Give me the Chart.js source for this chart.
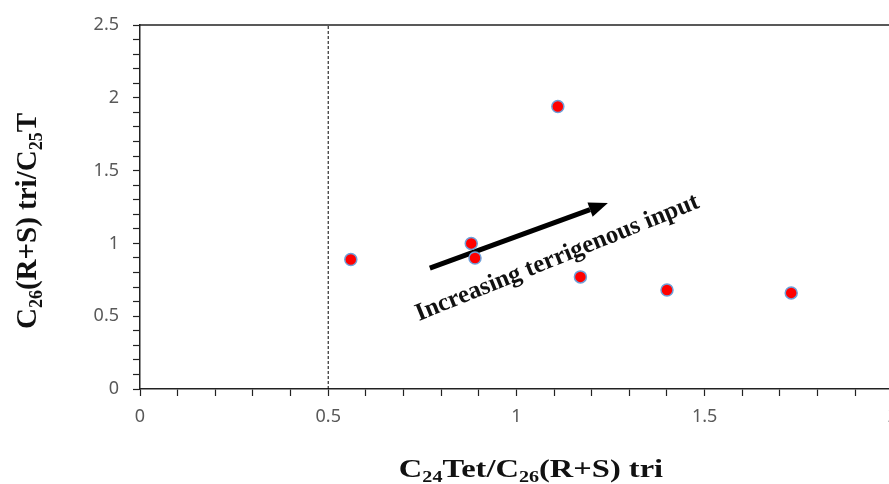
<!DOCTYPE html>
<html>
<head>
<meta charset="utf-8">
<script src="https://cdn.jsdelivr.net/npm/chart.js@4.4.1/dist/chart.umd.min.js"></script>
<style>
    html, body { margin: 0; padding: 0; background: #fff; overflow: hidden; }
    #myChart { display: block; }
</style>
</head>
<body>
<canvas id="myChart" width="908" height="484"></canvas>
<script>
// 样品点 C24Tet/C26(R+S) tri vs C26(R+S) tri/C25T
var ratioX = [0.56, 0.88, 0.89, 1.11, 1.17, 1.40, 1.73];
var ratioY = [0.89, 1.00, 0.90, 1.94, 0.77, 0.68, 0.66];

// 分界线 x = 0.5
var cutX = 0.5;

// 坐标轴刻度
var xTicks = [0, 0.5, 1, 1.5, 2];
var yTicks = [0, 0.5, 1, 1.5, 2, 2.5];

// 箭头 (起点 -> 终点) 和说明文字位置
var arrowFrom = [0.77, 0.83];
var arrowTo = [1.243, 1.277];
var noteAt = [1.115, 0.858];
var noteText = "Increasing terrigenous input";

var points = [];
for (var i = 0; i < ratioX.length; i++) {
    points.push({x: ratioX[i], y: ratioY[i]});
}

function onlyMajor(list) {
    return function (v) {
        for (var k = 0; k < list.length; k++) {
            if (Math.abs(v - list[k]) < 1e-6) return String(list[k]);
        }
        return '';
    };
}

// 画带下标的文字, runs: [{t:'C'}, {t:'24', sub:true}, ...]
function richWidth(ctx, runs, size) {
    var w = 0;
    for (var i = 0; i < runs.length; i++) {
        var s = runs[i].sub ? size * 0.62 : size;
        ctx.font = "bold " + s + "px 'Liberation Serif'";
        w += ctx.measureText(runs[i].t).width;
    }
    return w;
}

function drawRich(ctx, runs, size) {
    var w = richWidth(ctx, runs, size);
    var x = -w / 2;
    for (var i = 0; i < runs.length; i++) {
        var sub = runs[i].sub;
        var s = sub ? size * 0.62 : size;
        ctx.font = "bold " + s + "px 'Liberation Serif'";
        ctx.fillText(runs[i].t, x, sub ? size * 0.2 : 0);
        x += ctx.measureText(runs[i].t).width;
    }
}

var xTitle = [{t: 'C'}, {t: '24', sub: true}, {t: 'Tet/C'}, {t: '26', sub: true}, {t: '(R+S) tri'}];
var yTitle = [{t: 'C'}, {t: '26', sub: true}, {t: '(R+S) tri/C'}, {t: '25', sub: true}, {t: 'T'}];

var decor = {
    id: 'decor',
    beforeDatasetsDraw: function (chart) {
        var ctx = chart.ctx;
        var sx = chart.scales.x, sy = chart.scales.y;
        var x0 = sx.getPixelForValue(arrowFrom[0]), y0 = sy.getPixelForValue(arrowFrom[1]);
        var x1 = sx.getPixelForValue(arrowTo[0]), y1 = sy.getPixelForValue(arrowTo[1]);
        var ang = Math.atan2(y1 - y0, x1 - x0);
        var head = 19, half = 7.5;
        ctx.save();
        ctx.strokeStyle = '#000';
        ctx.fillStyle = '#000';
        ctx.lineWidth = 5;
        ctx.beginPath();
        ctx.moveTo(x0, y0);
        ctx.lineTo(x1 - Math.cos(ang) * head, y1 - Math.sin(ang) * head);
        ctx.stroke();
        ctx.translate(x1, y1);
        ctx.rotate(ang);
        ctx.beginPath();
        ctx.moveTo(0, 0);
        ctx.lineTo(-head, -half);
        ctx.lineTo(-head, half);
        ctx.closePath();
        ctx.fill();
        ctx.restore();

        // 斜体说明
        ctx.save();
        ctx.translate(sx.getPixelForValue(noteAt[0]), sy.getPixelForValue(noteAt[1]));
        ctx.rotate(-22 * Math.PI / 180);
        ctx.fillStyle = '#111';
        ctx.font = "bold 25px 'Liberation Serif'";
        ctx.textAlign = 'center';
        ctx.textBaseline = 'alphabetic';
        ctx.fillText(noteText, 0, 0);
        ctx.restore();
    },
    afterDraw: function (chart) {
        var ctx = chart.ctx;
        var a = chart.chartArea;
        ctx.save();
        // 上边框
        ctx.strokeStyle = '#222';
        ctx.lineWidth = 1.5;
        ctx.beginPath();
        ctx.moveTo(a.left, a.top);
        ctx.lineTo(a.right, a.top);
        ctx.stroke();

        // 轴标题
        ctx.fillStyle = '#111';
        ctx.textAlign = 'left';
        ctx.textBaseline = 'alphabetic';
        ctx.save();
        ctx.translate(531, 477);
        ctx.scale(1.25, 1);
        drawRich(ctx, xTitle, 26);
        ctx.restore();

        ctx.save();
        ctx.translate(36, 221);
        ctx.rotate(-Math.PI / 2);
        drawRich(ctx, yTitle, 29);
        ctx.restore();
        ctx.restore();
    }
};

var tickFont = {family: "'Noto Sans'", size: 18};

var ctx = document.getElementById("myChart").getContext("2d");
var myChart = new Chart(ctx, {
    type: 'scatter',
    data: {
        datasets: [
            {
                label: 'samples',
                data: points,
                backgroundColor: '#ff0000',
                borderColor: '#6f9fd8',
                borderWidth: 1.5,
                pointRadius: 6,
                pointHoverRadius: 6
            },
            {
                label: 'cut',
                data: [{x: cutX, y: yTicks[0]}, {x: cutX, y: yTicks[yTicks.length - 1]}],
                showLine: true,
                borderColor: '#000',
                borderWidth: 1,
                borderDash: [3, 2],
                pointRadius: 0,
                order: 2
            }
        ]
    },
    options: {
        responsive: false,
        animation: false,
        layout: {padding: {top: 25, right: 7, left: 0, bottom: 0}},
        plugins: {
            legend: {display: false},
            tooltip: {enabled: false}
        },
        scales: {
            x: {
                type: 'linear',
                min: xTicks[0],
                max: xTicks[xTicks.length - 1],
                afterFit: function (s) { s.height = 95; },
                ticks: {
                    stepSize: 0.1,
                    autoSkip: false,
                    maxRotation: 0,
                    padding: 10,
                    color: '#595959',
                    font: tickFont,
                    callback: onlyMajor(xTicks)
                },
                grid: {
                    drawOnChartArea: false,
                    drawTicks: true,
                    tickLength: 7,
                    tickWidth: 1.2,
                    tickColor: '#222'
                },
                border: {display: true, color: '#222', width: 1.5}
            },
            y: {
                type: 'linear',
                min: yTicks[0],
                max: yTicks[yTicks.length - 1],
                afterFit: function (s) { s.width = 140; },
                ticks: {
                    stepSize: 0.1,
                    autoSkip: false,
                    padding: 14,
                    color: '#595959',
                    font: tickFont,
                    callback: onlyMajor(yTicks)
                },
                grid: {
                    drawOnChartArea: false,
                    drawTicks: true,
                    tickLength: 7,
                    tickWidth: 1.2,
                    tickColor: '#222'
                },
                border: {display: true, color: '#222', width: 1.5}
            }
        }
    },
    plugins: [decor]
});
</script>
</body>
</html>
